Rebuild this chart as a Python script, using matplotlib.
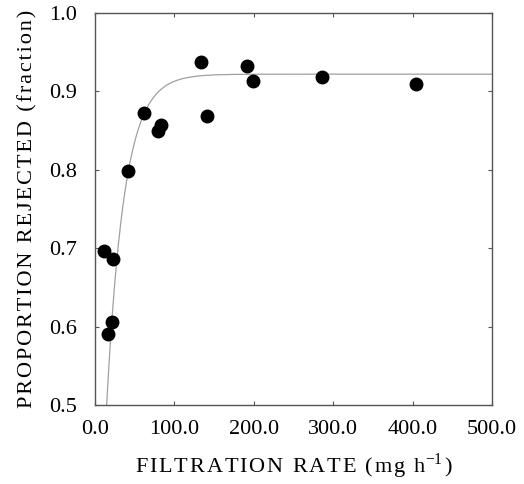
import numpy as np
import matplotlib.pyplot as plt

plt.rcParams['font.family'] = ['Liberation Serif', 'DejaVu Serif']
plt.rcParams['mathtext.fontset'] = 'custom'
plt.rcParams['mathtext.rm'] = 'Liberation Serif'

# measured filtration rate (mg h-1) and proportion rejected
rate = [11.8, 16.8, 21.0, 23.0, 41.9, 62.1, 79.3, 82.7, 133.5, 141.0,
        191.8, 198.6, 286.3, 404.7]
rejected = [0.697, 0.591, 0.606, 0.686, 0.798, 0.872, 0.849, 0.857, 0.937,
            0.869, 0.932, 0.913, 0.919, 0.910]

# fitted saturating curve: y = A - B * exp(-k * x)
A, B, k = 0.922, 0.817, 0.045

xticks = [0, 100, 200, 300, 400, 500]
xticklabels = ['0.0', '100.0', '200.0', '300.0', '400.0', '500.0']
yticks = [0.5, 0.6, 0.7, 0.8, 0.9, 1.0]
yticklabels = ['0.5', '0.6', '0.7', '0.8', '0.9', '1.0']


def spaced(s):
    # small gap between letters, like the old typeset axis titles
    return '\u200a'.join(s)


fig = plt.figure(figsize=(5.24, 4.84), dpi=100)
ax = fig.add_axes([0.1813, 0.1632, 0.7576, 0.8099])

xc = np.linspace(10, 500, 600)
ax.plot(xc, A - B * np.exp(-k * xc), color='#a0a0a0', lw=0.9, zorder=2)
ax.plot(rate, rejected, 'o', color='black', markersize=9, zorder=3)

ax.set_xlim(0, 500)
ax.set_ylim(0.5, 1.0)
ax.set_xticks(xticks)
ax.set_xticklabels(xticklabels)
ax.set_yticks(yticks)
ax.set_yticklabels(yticklabels)
ax.tick_params(direction='in', length=3, width=0.8, color='#555555',
               top=True, right=True, labelsize=16)
ax.tick_params(axis='x', pad=11)
ax.tick_params(axis='y', pad=13)
for s in ax.spines.values():
    s.set_color('#555555')
    s.set_linewidth(1.0)

ax.set_xlabel(spaced('FILTRATION RATE (mg h') + '$^{-1}$' + '\u200a)',
              fontsize=16, labelpad=9)
ax.set_ylabel(spaced('PROPORTION REJECTED (fraction)'), fontsize=16,
              labelpad=8)

fig.savefig('out.png', dpi=100)
